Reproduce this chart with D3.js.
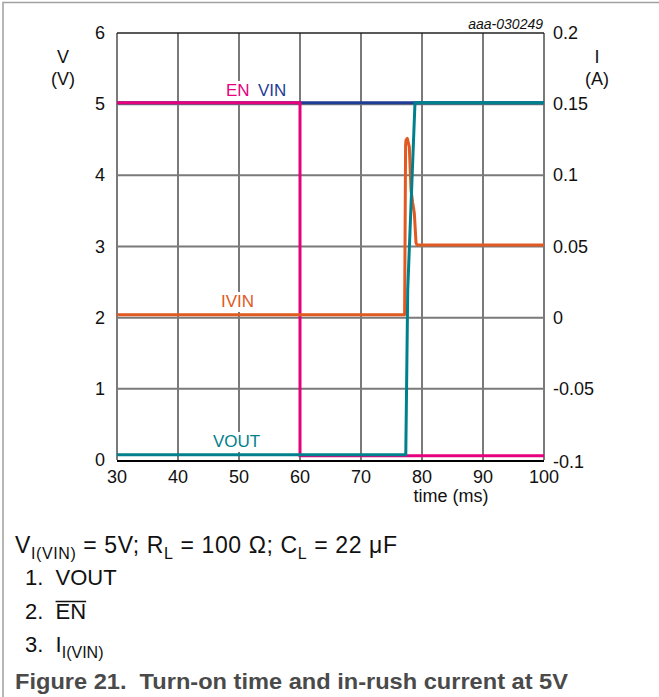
<!DOCTYPE html>
<html><head><meta charset="utf-8">
<script src="https://cdn.jsdelivr.net/npm/d3@7"></script>
<style>
body{margin:0;background:#fff;}
svg{display:block;font-family:"Liberation Sans",Arial,sans-serif;}
</style></head>
<body>
<svg id="c" width="659" height="697"></svg>
<script>
// ---- data ----
const xTicks = [30, 40, 50, 60, 70, 80, 90, 100];
const vTicks = [0, 1, 2, 3, 4, 5, 6];
const iTicks = [-0.1, -0.05, 0, 0.05, 0.1, 0.15, 0.2];
const iTickLabels = ["-0.1", "-0.05", "0", "0.05", "0.1", "0.15", "0.2"];

const vinT = [30, 100];
const vinV = [5.02, 5.02];

const enT = [30, 60, 60, 100];
const enV = [5.02, 5.02, 0.06, 0.06];

const voutT = [30, 77.34, 77.66, 78.85, 100];
const voutV = [0.075, 0.075, 2.39, 5.02, 5.02];

const ivinT = [30, 77.15, 77.31, 77.38, 77.59, 77.92, 78.20, 78.48, 78.74, 79.02, 79.2, 100];
const ivinI = [0.002, 0.002, 0.121, 0.1248, 0.126, 0.120, 0.0897, 0.0806, 0.0736, 0.0525, 0.0511, 0.0511];

const colors = {vin:"#1f3d96", en:"#e6007e", vout:"#00808c", ivin:"#e05a22"};

// ---- chart ----
const svg = d3.select("#c");
const L = 117, R = 544, T = 33, B = 460;
const x = d3.scaleLinear().domain([30, 100]).range([L, R]);
const yV = d3.scaleLinear().domain([0, 6]).range([B, T]);
const yI = d3.scaleLinear().domain([-0.1, 0.2]).range([B, T]);

// outer border (left + top)
svg.append("path").attr("d", "M3,697 V2.5 H659").attr("fill","none").attr("stroke","#a0a0a0").attr("stroke-width",1.5);

// gridlines
const g = svg.append("g");
g.selectAll(".vg").data(xTicks.slice(1, -1)).enter().append("line")
  .attr("x1", d => x(d)).attr("x2", d => x(d)).attr("y1", T).attr("y2", B)
  .attr("stroke", "#7a7a7a").attr("stroke-width", 2);
g.selectAll(".hg").data(vTicks.slice(1, -1)).enter().append("line")
  .attr("x1", L).attr("x2", R).attr("y1", d => yV(d)).attr("y2", d => yV(d))
  .attr("stroke", "#7a7a7a").attr("stroke-width", 2);
// frame
g.append("line").attr("x1", L).attr("x2", L).attr("y1", T).attr("y2", B).attr("stroke", "#7a7a7a").attr("stroke-width", 2);
g.append("line").attr("x1", R).attr("x2", R).attr("y1", T).attr("y2", B).attr("stroke", "#7a7a7a").attr("stroke-width", 2);
g.append("line").attr("x1", L).attr("x2", R).attr("y1", T).attr("y2", T).attr("stroke", "#222").attr("stroke-width", 1.5);

// series labels (with white backing hiding gridlines)
const bgLayer = svg.append("g");
const lab = svg.append("g").attr("font-size", 17);
const labels = [
  {x:226, y:96, c:colors.en, t:"EN"},
  {x:258, y:96, c:colors.vin, t:"VIN"},
  {x:221, y:307, c:colors.ivin, t:"IVIN"},
  {x:213, y:447, c:colors.vout, t:"VOUT"}
];
labels.forEach(d => {
  const t = lab.append("text").attr("x", d.x).attr("y", d.y).attr("fill", d.c).text(d.t);
  const b = t.node().getBBox();
  bgLayer.append("rect").attr("x", b.x - 2).attr("y", b.y).attr("width", b.width + 4).attr("height", b.height + 1).attr("fill", "#fff");
});

// traces
const mk = (ts, vs, ys) => d3.line().x((d, i) => x(ts[i])).y((d, i) => ys(vs[i]))(vs);
svg.append("path").attr("d", mk(vinT, vinV, yV)).attr("fill","none").attr("stroke",colors.vin).attr("stroke-width",3);
svg.append("path").attr("d", mk(enT, enV, yV)).attr("fill","none").attr("stroke",colors.en).attr("stroke-width",3);
svg.append("path").attr("d", mk(ivinT, ivinI, yI)).attr("fill","none").attr("stroke",colors.ivin).attr("stroke-width",3).attr("stroke-linejoin","round");
svg.append("path").attr("d", mk(voutT, voutV, yV)).attr("fill","none").attr("stroke",colors.vout).attr("stroke-width",3);
lab.raise();

// bottom axis line
svg.append("line").attr("x1", L).attr("x2", R).attr("y1", B + 1).attr("y2", B + 1).attr("stroke", "#000").attr("stroke-width", 2);

// tick labels
const tk = svg.append("g").attr("font-size", 18).attr("fill", "#111");
tk.selectAll(".xl").data(xTicks).enter().append("text")
  .attr("x", d => x(d)).attr("y", 483).attr("text-anchor", "middle").text(d => d);
tk.selectAll(".vl").data(vTicks).enter().append("text")
  .attr("x", 105).attr("y", d => yV(d) + 6).attr("text-anchor", "end").text(d => d);
tk.selectAll(".il").data(iTicks).enter().append("text")
  .attr("x", 553).attr("y", d => yI(d) + 6 + (d === -0.1 ? 2 : 0)).attr("text-anchor", "start").text((d, i) => iTickLabels[i]);

tk.append("text").attr("x", 451).attr("y", 502).attr("text-anchor","middle").text("time (ms)");
tk.append("text").attr("x", 63).attr("y", 63).attr("text-anchor","middle").text("V");
tk.append("text").attr("x", 63).attr("y", 85).attr("text-anchor","middle").text("(V)");
tk.append("text").attr("x", 597).attr("y", 63).attr("text-anchor","middle").text("I");
tk.append("text").attr("x", 597).attr("y", 85).attr("text-anchor","middle").text("(A)");
svg.append("text").attr("x", 543).attr("y", 29).attr("text-anchor","end").attr("font-size", 14)
  .attr("font-style","italic").attr("fill","#111").text("aaa-030249");

// caption
const cap = svg.append("g").attr("font-size", 22).attr("fill", "#111");
const l1 = cap.append("text").attr("x", 15).attr("y", 553).attr("font-size", 23)
  .attr("textLength", 382).attr("lengthAdjust", "spacing");
l1.append("tspan").text("V");
l1.append("tspan").attr("font-size", 16).attr("dy", 6).text("I(VIN)");
l1.append("tspan").attr("dy", -6).text(" = 5V; R");
l1.append("tspan").attr("font-size", 16).attr("dy", 6).text("L");
l1.append("tspan").attr("dy", -6).text(" = 100 Ω; C");
l1.append("tspan").attr("font-size", 16).attr("dy", 6).text("L");
l1.append("tspan").attr("dy", -6).text(" = 22 μF");

cap.append("text").attr("x", 25).attr("y", 585).attr("xml:space","preserve").text("1.  VOUT");
const l3 = cap.append("text").attr("x", 25).attr("y", 619).attr("xml:space","preserve");
l3.append("tspan").text("2.  ");
const enSpan = l3.append("tspan").text("EN");
const l4 = cap.append("text").attr("x", 25).attr("y", 652).attr("xml:space","preserve");
l4.append("tspan").text("3.  I");
l4.append("tspan").attr("font-size", 16).attr("dy", 6).text("I(VIN)");

// overline over EN
const n = enSpan.node();
const start = n.getStartPositionOfChar(0).x;
const end = n.getEndPositionOfChar(1).x;
cap.append("line").attr("x1", start).attr("x2", end).attr("y1", 619 - 17.5).attr("y2", 619 - 17.5)
  .attr("stroke", "#111").attr("stroke-width", 1.5);

svg.append("text").attr("x", 15).attr("y", 689).attr("font-size", 22.5).attr("font-weight", "bold")
  .attr("fill", "#4a4a4a").attr("xml:space","preserve")
  .attr("textLength", 553).attr("lengthAdjust", "spacingAndGlyphs")
  .text("Figure 21.  Turn-on time and in-rush current at 5V");
</script>
</body></html>
